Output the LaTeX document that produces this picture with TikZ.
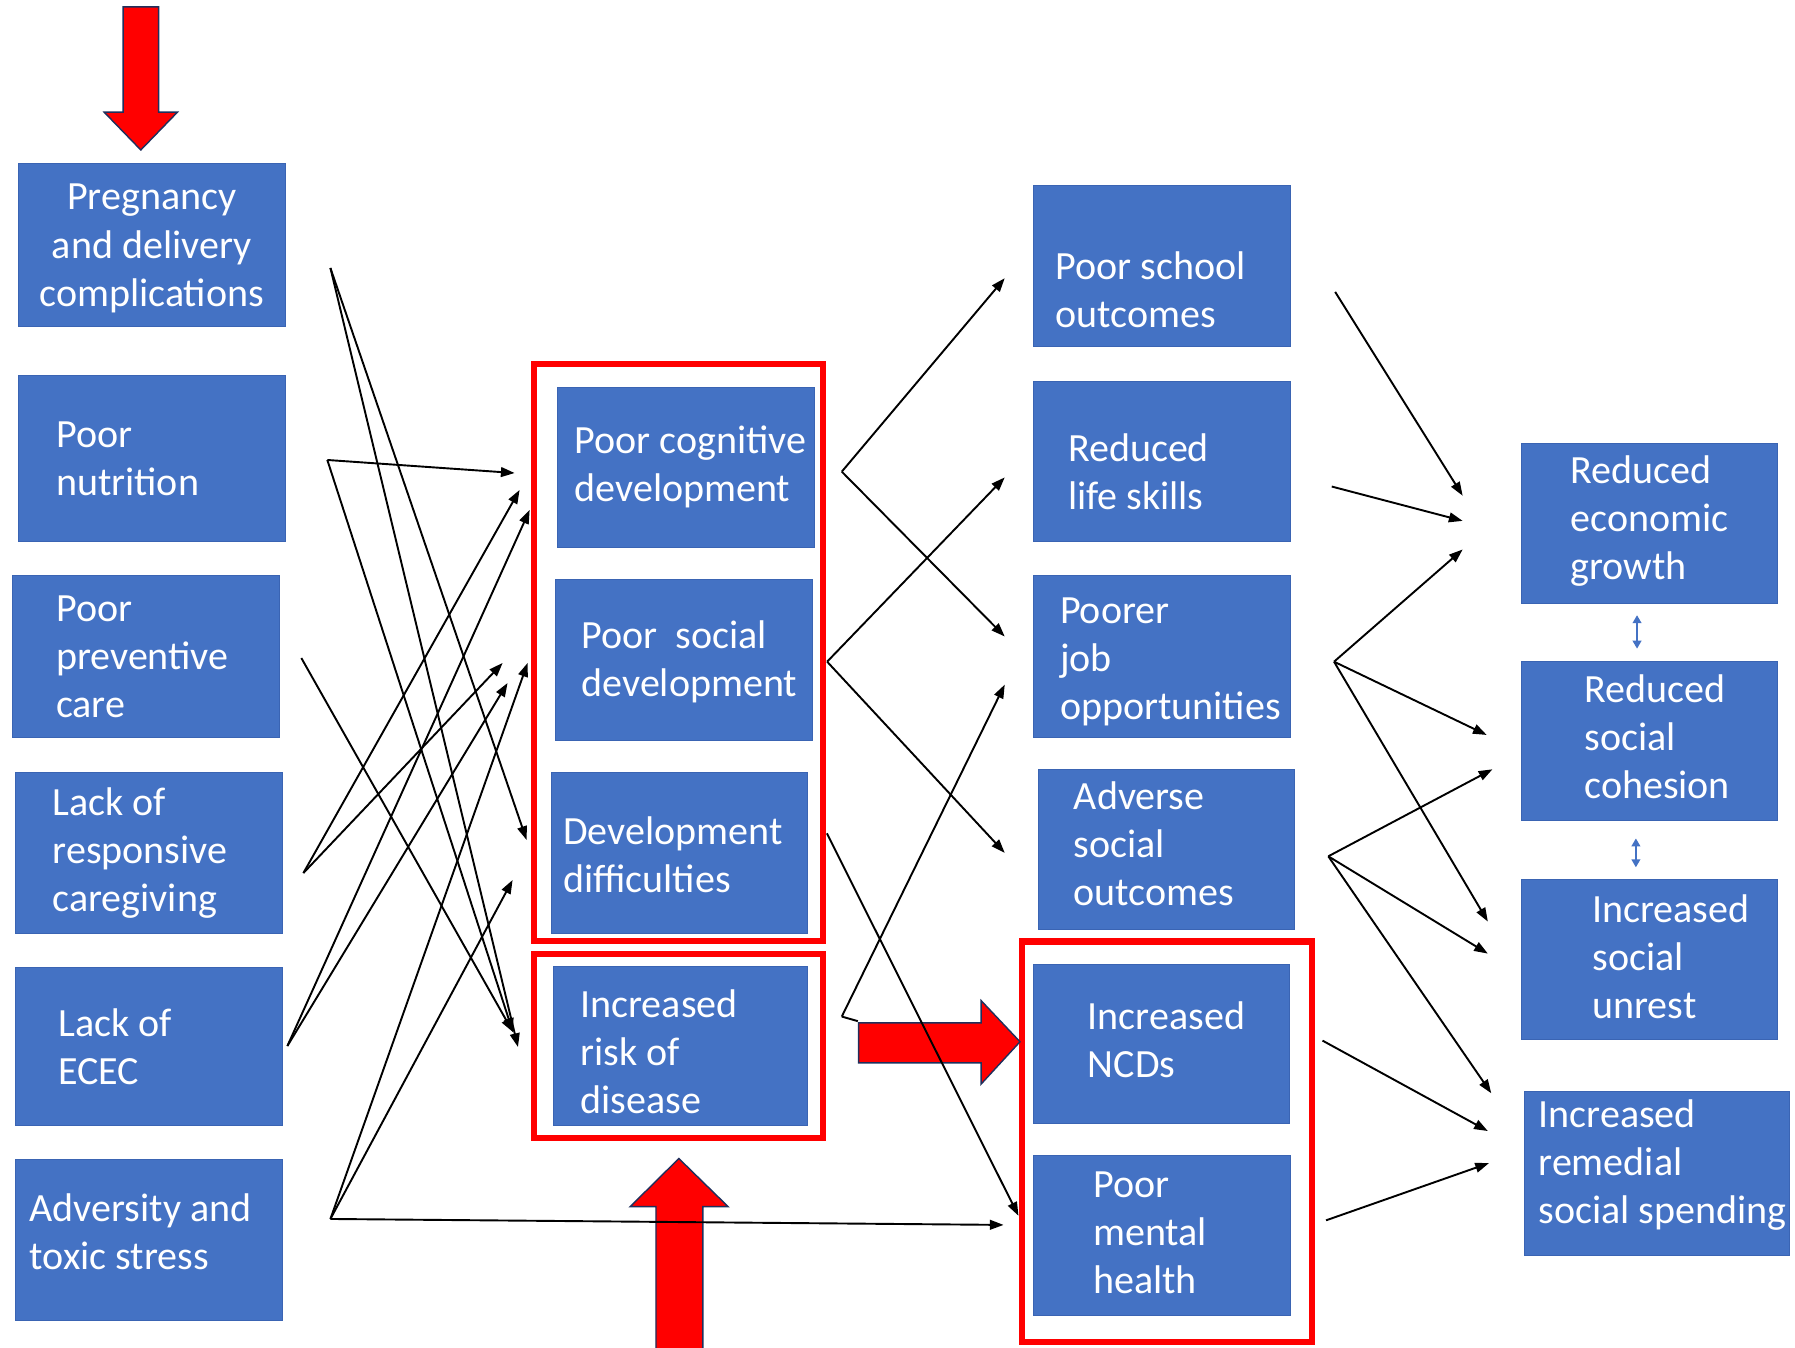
\documentclass[tikz,border=0pt]{standalone}
\usepackage{fontspec}
\setmainfont{Carlito}
\usetikzlibrary{positioning,calc,arrows.meta}

\definecolor{boxblue}{HTML}{4472C4}
\definecolor{boxedge}{HTML}{3A64B3}
\definecolor{framered}{HTML}{FF0000}
\definecolor{navyline}{HTML}{1F2F5C}

\tikzset{
  box/.style={fill=boxblue, draw=boxedge, line width=0.4pt, inner sep=0pt,
    minimum width=4.48cm, minimum height=2.8cm},
  txt/.style={text=white, inner sep=0pt, align=left,
    font=\fontsize{19.9}{23.9}\selectfont},
  redframe/.style={draw=framered, line width=0.11cm},
  arr/.style={draw=black, line width=0.95pt, -{Triangle[length=0.24cm,width=0.17cm]}},
  twoway/.style={draw=boxblue, line width=1.2pt,
    {Triangle[length=0.14cm,width=0.15cm]}-{Triangle[length=0.14cm,width=0.15cm]}},
  bigarrow/.style={fill=red, draw=navyline, line width=0.7pt, line join=miter},
}

\begin{document}
\begin{tikzpicture}[x=0.02cm, y=-0.02cm]
  \useasboundingbox (0,0) rectangle (1568,1177);

  % Causes
  \node[box, minimum width=4.66cm, minimum height=2.84cm] (preg) at (132.5,214) {};
  \node[box, minimum width=4.66cm, minimum height=2.9cm] (nutr) at (132.5,400.5) {};
  \node[box, minimum width=4.66cm, minimum height=2.82cm] (prev) at (127.5,573.5) {};
  \node[box, minimum width=4.68cm] (care) at (130,745) {};
  \node[box, minimum width=4.68cm, minimum height=2.76cm] (ecec) at (130,914) {};
  \node[box, minimum width=4.68cm] (adv) at (130,1083) {};

  \node[txt, align=center, yshift=-0.06cm] (preg-t) at (preg) {Pregnancy\\and delivery\\complications};
  \node[txt, right=0.66cm of nutr.west] (nutr-t) {Poor\\nutrition};
  \node[txt, right=0.76cm of prev.west] (prev-t) {Poor\\preventive\\care};
  \node[txt, right=0.66cm of care.west] (care-t) {Lack of\\responsive\\caregiving};
  \node[txt, right=0.76cm of ecec.west] (ecec-t) {Lack of\\ECEC};
  \node[txt, right=0.26cm of adv.west, yshift=0.14cm] (adv-t) {Adversity and\\toxic stress};

  % Child outcomes
  \node[box] (cog) at (599,408) {};
  \node[box, minimum width=4.5cm, minimum height=2.82cm] (soc) at (597.5,576.5) {};
  \node[box, minimum width=4.46cm, minimum height=2.82cm] (dev) at (593.5,745) {};
  \node[box, minimum width=4.44cm, minimum height=2.78cm] (risk) at (594,914) {};

  \node[txt, right=0.3cm of cog.west] (cog-t) {Poor cognitive\\development};
  \node[txt, right=0.46cm of soc.west, yshift=-0.03cm] (soc-t) {Poor\ \ social\\development};
  \node[txt, right=0.2cm of dev.west, yshift=-0.04cm] (dev-t) {Development\\difficulties};
  \node[txt, right=0.48cm of risk.west, yshift=-0.1cm] (risk-t) {Increased\\risk of\\disease};

  % Later outcomes
  \node[box, minimum height=2.82cm] (school) at (1015,232.5) {};
  \node[box] (life) at (1015,403) {};
  \node[box, minimum height=2.82cm] (job) at (1015,573.5) {};
  \node[box] (advs) at (1019,742) {};
  \node[box, minimum width=4.49cm, minimum height=2.78cm] (ncd) at (1014.5,911.5) {};
  \node[box] (ment) at (1015,1079) {};

  \node[txt, right=0.38cm of school.west, yshift=-0.42cm] (school-t) {Poor school\\outcomes};
  \node[txt, right=0.6cm of life.west, yshift=-0.18cm] (life-t) {Reduced\\life skills};
  \node[txt, right=0.46cm of job.west, yshift=-0.1cm] (job-t) {Poorer\\job\\opportunities};
  \node[txt, right=0.62cm of advs.west, yshift=0.1cm] (advs-t) {Adverse\\social\\outcomes};
  \node[txt, right=0.96cm of ncd.west, yshift=0.07cm] (ncd-t) {Increased\\NCDs};
  \node[txt, right=1.04cm of ment.west, yshift=0.04cm] (ment-t) {Poor\\mental\\health};

  % Society
  \node[box] (econ) at (1441,457) {};
  \node[box, minimum height=2.78cm] (cohe) at (1441,647.5) {};
  \node[box] (unre) at (1441,838) {};
  \node[box, minimum width=4.62cm, minimum height=2.88cm] (spen) at (1447.5,1025) {};

  \node[txt, right=0.86cm of econ.west, yshift=0.04cm] (econ-t) {Reduced\\economic\\growth};
  \node[txt, right=1.1cm of cohe.west, yshift=0.08cm] (cohe-t) {Reduced\\social\\cohesion};
  \node[txt, right=1.24cm of unre.west, yshift=0.04cm] (unre-t) {Increased\\social\\unrest};
  \node[txt, right=0.24cm of spen.west, yshift=0.14cm] (spen-t) {Increased\\remedial\\social spending};

  % Highlight frames
  \draw[redframe] (466.3,317.8) rectangle (719.2,822.2);
  \draw[redframe] (466.3,833.3) rectangle (719.2,993.9);
  \draw[redframe] (893,822.5) rectangle (1146.3,1172);

  % Block arrows
  \draw[bigarrow] (107.5,6) -- (138.5,6) -- (138.5,98) -- (155,98) -- (123,131)
    -- (91,98) -- (107.5,98) -- cycle;
  \draw[bigarrow] (573,1190) -- (573,1054) -- (550.5,1054) -- (593,1012)
    -- (636,1054) -- (614,1054) -- (614,1190) -- cycle;
  \draw[bigarrow] (750,893.5) -- (857,893.5) -- (857,874) -- (891,910)
    -- (857,947) -- (857,928.5) -- (750,928.5) -- cycle;

  % Arrow ends
  \coordinate (preg-o) at ($(preg.east)+(39.3,20.1)$);
  \coordinate (nutr-o) at ($(nutr.east)+(36.6,1.3)$);
  \coordinate (prev-o) at ($(prev.east)+(18.9,1.3)$);
  \coordinate (care-o) at ($(care.east)+(17.7,17.6)$);
  \coordinate (ecec-o) at ($(ecec.east)+(3.7,-0.3)$);
  \coordinate (adv-o) at ($(adv.east)+(41.3,-18.2)$);
  \coordinate (cog-o) at ($(cog.east)+(24,4)$);
  \coordinate (soc-o) at ($(soc.east)+(12.2,1.5)$);
  \coordinate (dev-o) at ($(dev.east)+(17,-17)$);
  \coordinate (risk-o) at ($(risk.east)+(30,-26)$);
  \coordinate (risk-s) at ($(risk.east)+(44,-22)$);
  \coordinate (school-o) at ($(school.east)+(39,22.5)$);
  \coordinate (life-o) at ($(life.east)+(36,22)$);
  \coordinate (job-o) at ($(job.east)+(38,4.5)$);
  \coordinate (advs-o) at ($(advs.east)+(29,6)$);
  \coordinate (ncd-o) at ($(ncd.east)+(28.2,-2.5)$);
  \coordinate (ment-o) at ($(ment.east)+(31,-13)$);

  \coordinate (cog-a) at ($(cog.west)+(-37.1,5.2)$);
  \coordinate (cog-b) at ($(cog.west)+(-32.8,20)$);
  \coordinate (cog-c) at ($(cog.west)+(-24,37.5)$);
  \coordinate (soc-a) at ($(soc.west)+(-45.6,2.6)$);
  \coordinate (soc-b) at ($(soc.west)+(-41.3,20.1)$);
  \coordinate (soc-c) at ($(soc.west)+(-23.8,2.6)$);
  \coordinate (dev-a) at ($(dev.west)+(-21.7,-11.3)$);
  \coordinate (dev-b) at ($(dev.west)+(-33.9,23.7)$);
  \coordinate (risk-a) at ($(risk.west)+(-34.6,-12.5)$);
  \coordinate (risk-b) at ($(risk.west)+(-30.2,0.6)$);
  \coordinate (school-i) at ($(school.west)+(-25,10.5)$);
  \coordinate (life-i) at ($(life.west)+(-25,14)$);
  \coordinate (job-a) at ($(job.west)+(-25,-17.5)$);
  \coordinate (job-b) at ($(job.west)+(-25,24.5)$);
  \coordinate (advs-i) at ($(advs.west)+(-29,3)$);
  \coordinate (ment-a) at ($(ment.west)+(-13,-17)$);
  \coordinate (ment-b) at ($(ment.west)+(-26,-9)$);
  \coordinate (econ-a) at ($(econ.west)+(-51,-24)$);
  \coordinate (econ-b) at ($(econ.west)+(-51,-2)$);
  \coordinate (econ-c) at ($(econ.west)+(-51,23)$);
  \coordinate (cohe-a) at ($(cohe.west)+(-30,-5.5)$);
  \coordinate (cohe-b) at ($(cohe.west)+(-25,24.5)$);
  \coordinate (unre-a) at ($(unre.west)+(-29,-33)$);
  \coordinate (unre-b) at ($(unre.west)+(-29,-5)$);
  \coordinate (spen-a) at ($(spen.west)+(-29,-70)$);
  \coordinate (spen-b) at ($(spen.west)+(-32,-37)$);
  \coordinate (spen-c) at ($(spen.west)+(-31,-9)$);

  % Edges
  \draw[arr] (preg-o) -- (dev-a);
  \draw[arr] (preg-o) -- (risk-b);
  \draw[arr] (nutr-o) -- (cog-a);
  \draw[arr] (nutr-o) -- (risk-a);
  \draw[arr] (prev-o) -- (risk-a);
  \draw[arr] (care-o) -- (cog-b);
  \draw[arr] (care-o) -- (soc-a);
  \draw[arr] (ecec-o) -- (cog-c);
  \draw[arr] (ecec-o) -- (soc-b);
  \draw[arr] (adv-o) -- (soc-c);
  \draw[arr] (adv-o) -- (dev-b);
  \draw[arr] (adv-o) -- (ment-b);

  \draw[arr] (cog-o) -- (school-i);
  \draw[arr] (cog-o) -- (job-a);
  \draw[arr] (soc-o) -- (life-i);
  \draw[arr] (soc-o) -- (advs-i);
  \draw[arr] (dev-o) -- (ment-a);
  \draw[arr] (risk-o) -- (job-b);
  \draw[line width=0.95pt] (risk-o) -- (risk-s);

  \draw[arr] (school-o) -- (econ-a);
  \draw[arr] (life-o) -- (econ-b);
  \draw[arr] (job-o) -- (econ-c);
  \draw[arr] (job-o) -- (cohe-a);
  \draw[arr] (job-o) -- (unre-a);
  \draw[arr] (advs-o) -- (cohe-b);
  \draw[arr] (advs-o) -- (unre-b);
  \draw[arr] (advs-o) -- (spen-a);
  \draw[arr] (ncd-o) -- (spen-b);
  \draw[arr] (ment-o) -- (spen-c);

  % Links between society boxes
  \coordinate (econ-d) at ($(econ.south)+(-11,10)$);
  \coordinate (cohe-u) at ($(cohe.north)+(-11,-11)$);
  \coordinate (cohe-d) at ($(cohe.south)+(-12,15)$);
  \coordinate (unre-u) at ($(unre.north)+(-12,-10)$);
  \draw[twoway] (econ-d) -- (cohe-u);
  \draw[twoway] (cohe-d) -- (unre-u);
\end{tikzpicture}
\end{document}
